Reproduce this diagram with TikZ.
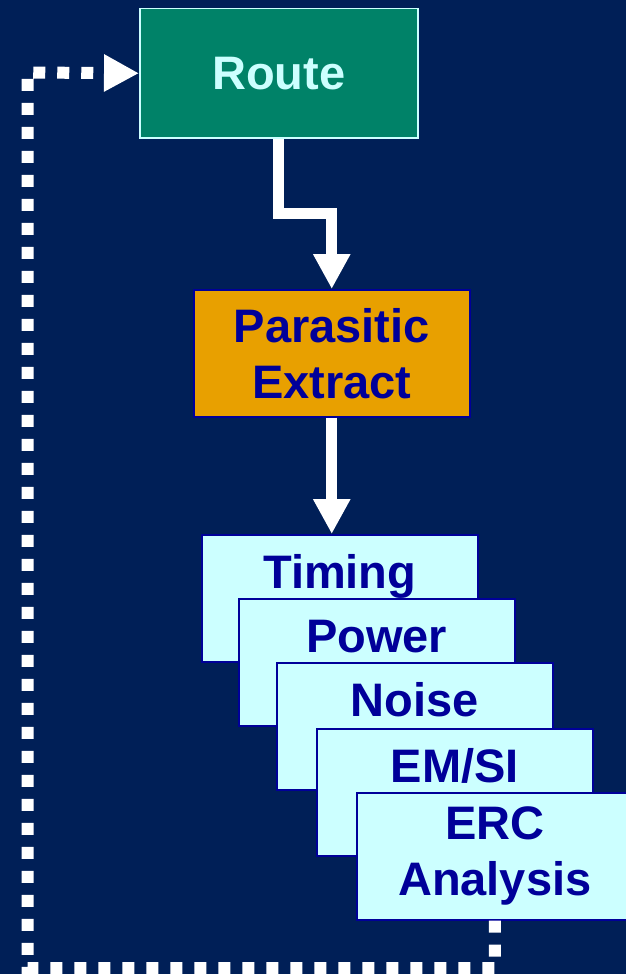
\documentclass[tikz,border=0pt]{standalone}
\usepackage{fontspec}
\setmainfont{Liberation Sans}
\usetikzlibrary{arrows.meta}
\definecolor{navy}{RGB}{0,31,87}
\definecolor{routegreen}{RGB}{0,130,104}
\definecolor{paleCyan}{RGB}{204,255,255}
\definecolor{amber}{RGB}{232,160,0}
\definecolor{inkblue}{RGB}{0,0,153}
\tikzset{
  flowbox/.style={draw, line width=1.5pt, inner sep=0pt, anchor=north west,
    minimum width=276pt, minimum height=127pt, align=center,
    font=\fontsize{47}{56}\selectfont\bfseries},
  routebox/.style={flowbox, fill=routegreen, draw=paleCyan, text=paleCyan,
    minimum width=278pt, minimum height=129pt},
  extractbox/.style={flowbox, fill=amber, draw=inkblue, text=inkblue},
  checkbox/.style={flowbox, fill=paleCyan, draw=inkblue, text=inkblue},
  checklabel/.style={anchor=base, inner sep=0pt, text=inkblue,
    font=\fontsize{47}{56}\selectfont\bfseries},
  flowarrow/.style={draw=white, line width=11pt,
    -{Triangle[width=35pt,length=35pt]}},
  loopback/.style={draw=white, line width=12pt, dash pattern=on 12pt off 12pt,
    -{Triangle[width=35pt,length=35pt]}}
}
\begin{document}
\begin{tikzpicture}[x=1pt,y=-1pt]
  \useasboundingbox (0,0) rectangle (626,974);
  \fill[navy] (0,0) rectangle (626,974);

  % main flow boxes
  \node[routebox] (route) at (139,8) {Route};
  \node[extractbox] (extract) at (193,289) {Parasitic\\Extract};

  % stacked analysis sheets
  \node[checkbox] (timing) at (201,534) {};
  \node[checklabel] (timingtxt) at ([yshift=-54pt]timing.north) {Timing};
  \node[checkbox] (power) at (238,598) {};
  \node[checklabel] (powertxt) at ([yshift=-54pt]power.north) {Power};
  \node[checkbox] (noise) at (276,662) {};
  \node[checklabel] (noisetxt) at ([yshift=-54pt]noise.north) {Noise};
  \node[checkbox] (emsi) at (316,728) {};
  \node[checklabel] (emsitxt) at ([yshift=-54pt]emsi.north) {EM/SI};
  \node[checkbox] (erc) at (356,792) {ERC\\Analysis};

  % forward flow
  \draw[flowarrow] (route.south) -- ++(0,75) -| (extract.north);
  \draw[flowarrow] (extract.south) -- (extract.south |- timing.north);

  % iteration loop back to routing
  \coordinate (loopA) at (erc.south |- 0,968);
  \coordinate (loopB) at (27.5,968);
  \coordinate (loopC) at (27.5,72.5);
  \draw[loopback] (erc.south) -- (loopA) -- (loopB) -- (loopC) -- (route.west);
\end{tikzpicture}
\end{document}
